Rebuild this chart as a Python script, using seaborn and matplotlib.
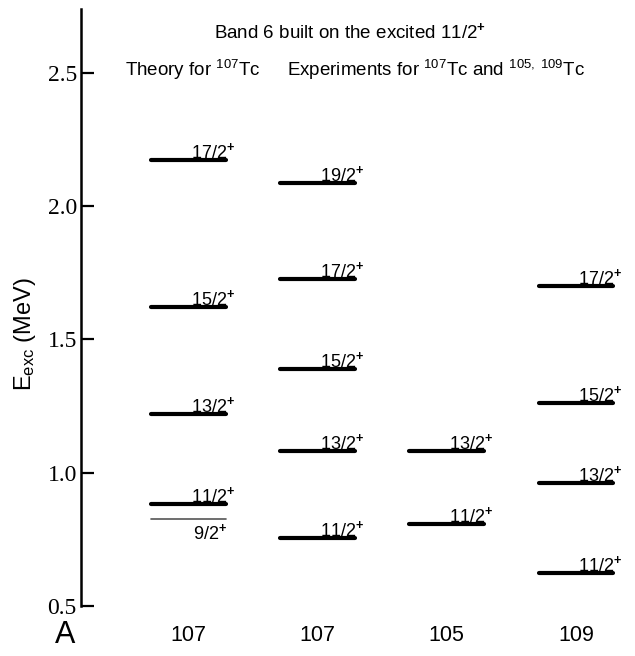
import matplotlib
matplotlib.use("Agg")
from matplotlib import pyplot as plt
import seaborn as sns
import pandas as pd

# Mass numbers under each column
mass_labels = ["107", "107", "105", "109"]

# Theory for 107Tc
theory_spins = ["11/2", "13/2", "15/2", "17/2"]
theory_energy = [0.882, 1.219, 1.623, 2.173]
theory_92_spin = "9/2"
theory_92_energy = 0.826

# Experiments
exp107_spins = ["11/2", "13/2", "15/2", "17/2", "19/2"]
exp107_energy = [0.755, 1.081, 1.388, 1.728, 2.088]
exp105_spins = ["11/2", "13/2"]
exp105_energy = [0.806, 1.082]
exp109_spins = ["11/2", "13/2", "15/2", "17/2"]
exp109_energy = [0.622, 0.962, 1.262, 1.702]

y_ticks = [0.5, 1.0, 1.5, 2.0, 2.5]

sns.set_theme(style="white")
plt.rcParams["font.family"] = ["Liberation Sans", "DejaVu Sans"]
plt.rcParams["mathtext.fontset"] = "custom"
plt.rcParams["mathtext.rm"] = "Liberation Sans"
plt.rcParams["mathtext.it"] = "Liberation Sans:italic"
plt.rcParams["mathtext.bf"] = "Liberation Sans:bold"
for key in ["text.color", "axes.labelcolor", "xtick.color", "ytick.color"]:
    plt.rcParams[key] = "black"

columns = [
    (theory_spins, theory_energy),
    (exp107_spins, exp107_energy),
    (exp105_spins, exp105_energy),
    (exp109_spins, exp109_energy),
]
half = 0.29

rows = []
uid = 0
for col, (spins, energies) in enumerate(columns, start=1):
    for s, e in zip(spins, energies):
        for dx in (-half, half):
            rows.append({"x": col + dx, "E": e, "id": uid, "col": col, "spin": s})
        uid += 1
df = pd.DataFrame(rows)
thin = pd.DataFrame({"x": [1 - half, 1 + half], "E": [theory_92_energy] * 2, "id": [0, 0]})

fig = plt.figure(figsize=(6.35, 6.56), dpi=100)
ax = fig.add_axes([81 / 635, 50 / 656, 554 / 635, 597 / 656])

sns.lineplot(data=df, x="x", y="E", units="id", estimator=None, sort=False,
             color="black", linewidth=3.0, legend=False, ax=ax)
sns.lineplot(data=thin, x="x", y="E", units="id", estimator=None, sort=False,
             color="#555555", linewidth=1.2, legend=False, ax=ax)

plus = r"$^{\mathbf{+}}$"

# level labels
for _, r in df.groupby("id").last().iterrows():
    ax.annotate(r["spin"] + plus, xy=(r["x"], r["E"]), xytext=(6.5, 1.5),
                textcoords="offset points", ha="right", va="baseline", fontsize=13)
ax.annotate(theory_92_spin + plus, xy=(1 + half, theory_92_energy), xytext=(0.5, -3),
            textcoords="offset points", ha="right", va="top", fontsize=13)

ax.set_xlim(0.168, 4.457)
ax.set_ylim(0.5, 2.74)
ax.set_yticks(y_ticks)
ax.set_yticklabels([f"{t:.1f}" for t in y_ticks], family="Liberation Serif", fontsize=17)
ax.set_xticks(range(1, len(mass_labels) + 1))
ax.set_xticklabels(mass_labels, fontsize=15.5)
ax.tick_params(axis="y", direction="in", length=9, width=1.6, pad=3, left=True)
ax.tick_params(axis="x", length=0, pad=14)

for side in ["top", "right", "bottom"]:
    ax.spines[side].set_visible(False)
ax.spines["left"].set_linewidth(1.8)
ax.spines["left"].set_color("black")

ax.set_xlabel("")
ax.set_ylabel(r"E$_{\rm exc}$ (MeV)", fontsize=17)
ax.yaxis.set_label_coords(-0.077, 0.456)

fig.text(65 / 635, 1 - 635 / 656, "A", ha="center", va="center", fontsize=22)
fig.text(350 / 635, 1 - 32 / 656, r"Band 6 built on the excited 11/2" + plus,
         ha="center", va="center", fontsize=13.5)
fig.text(125 / 635, 1 - 70 / 656, r"Theory for $^{107}$Tc", ha="left", va="center", fontsize=13.5)
fig.text(287 / 635, 1 - 70 / 656, r"Experiments for $^{107}$Tc and $^{105,\ 109}$Tc",
         ha="left", va="center", fontsize=13.5)

fig.savefig("out.png", dpi=100)
